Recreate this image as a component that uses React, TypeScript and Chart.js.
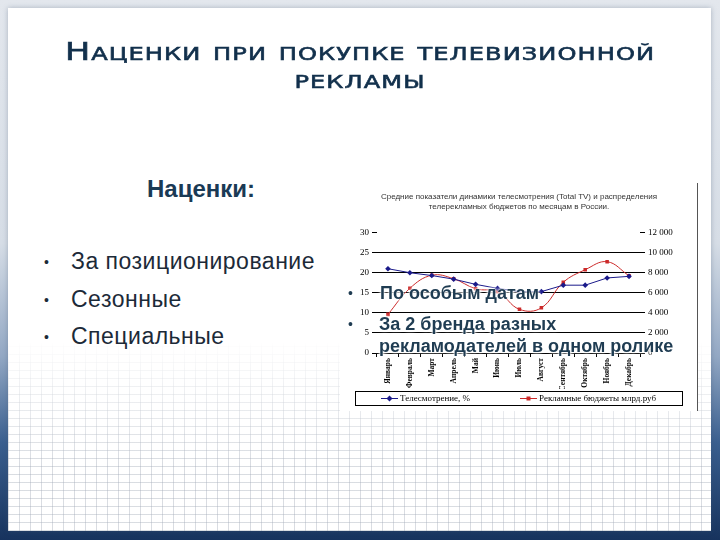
import React, { useEffect, useRef } from 'react';
import { Chart, registerables } from 'chart.js';

Chart.register(...registerables);

const months = ['Январь', 'Февраль', 'Март', 'Апрель', 'Май', 'Июнь', 'Июль', 'Август', 'Сентябрь', 'Октябрь', 'Ноябрь', 'Декабрь'];
const viewing = [21.0, 20.0, 19.3, 18.4, 17.1, 16.1, 15.3, 15.3, 16.9, 16.9, 18.7, 19.1];
const budgets = [3850, 6450, 7750, 7400, 6400, 6100, 4350, 4500, 7050, 8300, 9100, 7700];
const seriesNames = ['Телесмотрение, %', 'Рекламные бюджеты млрд.руб'];
const chartTitle = [
  'Средние показатели динамики телесмотрения (Total TV) и распределения',
  'телерекламных бюджетов по месяцам в России.',
];
const slideTitle = ['Наценки при покупке телевизионной', 'рекламы'];
const leftHeading = 'Наценки:';
const leftBullets = ['За позиционирование', 'Сезонные', 'Специальные'];
const overlayBullets = ['По особым датам', 'За 2 бренда разных', 'рекламодателей в одном ролике'];

const BLUE = '#1a1a8a';
const RED = '#cc2a2a';

const fmt = (v: number) => String(v).replace(/\B(?=(\d{3})+(?!\d))/g, ' ');

const boxedLegend = {
  id: 'boxedLegend',
  afterDraw(chart: any) {
    const { ctx } = chart;
    const x0 = 15, x1 = 342;
    const y0 = chart.height - 20, y1 = chart.height - 6;
    ctx.save();
    ctx.strokeStyle = '#000';
    ctx.lineWidth = 1;
    ctx.strokeRect(x0 + 0.5, y0 + 0.5, x1 - x0, y1 - y0);
    const yc = Math.round((y0 + y1) / 2) + 0.5;
    chart.data.datasets.forEach((ds: any, i: number) => {
      const lx = i === 0 ? 41 : 180;
      ctx.strokeStyle = ds.borderColor;
      ctx.lineWidth = 1;
      ctx.beginPath();
      ctx.moveTo(lx, yc);
      ctx.lineTo(lx + 17, yc);
      ctx.stroke();
      ctx.fillStyle = ds.borderColor;
      const mx = lx + 8.5;
      if (i === 0) {
        ctx.beginPath();
        ctx.moveTo(mx, yc - 3);
        ctx.lineTo(mx + 3, yc);
        ctx.lineTo(mx, yc + 3);
        ctx.lineTo(mx - 3, yc);
        ctx.closePath();
        ctx.fill();
      } else {
        ctx.fillRect(mx - 2, yc - 2, 4, 4);
      }
      ctx.fillStyle = '#000';
      ctx.font = '9px "Liberation Serif"';
      ctx.textBaseline = 'middle';
      ctx.fillText(ds.label, lx + 19, yc + 0.5);
    });
    ctx.restore();
  },
};

function TvChart() {
  const ref = useRef<HTMLCanvasElement | null>(null);
  useEffect(() => {
    if (!ref.current) return;
    const serif = 'Liberation Serif';
    const chart = new Chart(ref.current, {
      type: 'line',
      data: {
        labels: months,
        datasets: [
          {
            label: seriesNames[0],
            data: viewing,
            yAxisID: 'y',
            borderColor: BLUE,
            backgroundColor: BLUE,
            borderWidth: 1,
            pointStyle: 'rectRot',
            pointRadius: 2.8,
            pointBorderWidth: 0,
            tension: 0,
          },
          {
            label: seriesNames[1],
            data: budgets,
            yAxisID: 'y1',
            borderColor: RED,
            backgroundColor: RED,
            borderWidth: 1,
            pointStyle: 'rect',
            pointRadius: 2.5,
            pointBorderWidth: 0,
            tension: 0.4,
          },
        ],
      },
      options: {
        responsive: false,
        animation: false,
        layout: { padding: { left: 0, right: 0, top: 0, bottom: 22 } },
        plugins: {
          legend: { display: false },
          tooltip: { enabled: false },
          title: {
            display: true,
            text: chartTitle,
            color: '#333',
            font: { family: 'Liberation Sans', size: 8, weight: 'normal', lineHeight: 1.35 },
            padding: { top: 8, bottom: 20 },
          },
        },
        scales: {
          x: {
            offset: true,
            grid: { display: true, drawOnChartArea: false, offset: true, tickLength: 4, color: '#000' },
            border: { display: true, color: '#000', width: 1 },
            ticks: {
              autoSkip: false,
              minRotation: 90,
              maxRotation: 90,
              padding: 1,
              color: '#000',
              font: { family: serif, size: 7.5, weight: 'bold' },
            },
            afterFit: (s: any) => { s.height = 36; },
          },
          y: {
            position: 'left',
            min: 0,
            max: 30,
            ticks: { stepSize: 5, color: '#000', padding: 3, font: { family: serif, size: 9 } },
            grid: {
              color: (c: any) => (c.tick && c.tick.value === 30 ? 'rgba(0,0,0,0)' : '#000'),
              tickColor: '#000',
              tickLength: 5,
              lineWidth: 1,
            },
            border: { display: false },
            afterFit: (s: any) => { s.width = 37; },
          },
          y1: {
            position: 'right',
            min: 0,
            max: 12000,
            ticks: { stepSize: 2000, color: '#000', padding: 3, font: { family: serif, size: 9 }, callback: (v: any) => fmt(Number(v)) },
            grid: { drawOnChartArea: false, tickColor: '#000', tickLength: 5 },
            border: { display: false },
            afterFit: (s: any) => { s.width = 58; },
          },
        },
      },
      plugins: [boxedLegend],
    } as any);
    return () => chart.destroy();
  }, []);
  return <canvas ref={ref} width={358} height={228} style={{ display: 'block' }} />;
}

export default function App() {
  const ink = '#1f3c52';
  const halo = '0 0 2px #fff, 0 0 3px #fff, 0 0 4px #fff';
  return (
    <div
      style={{
        position: 'fixed',
        left: 0,
        top: 0,
        width: 720,
        height: 540,
        overflow: 'hidden',
        background: 'linear-gradient(180deg, #e3e7ed 0%, #d6dde6 45%, #93a8c4 66%, #3a5f8f 82%, #17335e 100%)',
        fontFamily: '"Liberation Sans", Arial, sans-serif',
      }}
    >
      <div
        style={{
          position: 'absolute',
          left: 8,
          top: 8,
          width: 703,
          height: 523,
          background: '#fff',
          boxShadow: '0 0 5px rgba(60,80,110,0.35)',
        }}
      />
      {/* grid pattern at bottom of panel */}
      <div
        style={{
          position: 'absolute',
          left: 8,
          top: 340,
          width: 703,
          height: 191,
          backgroundImage:
            'repeating-linear-gradient(0deg, rgba(160,168,182,0.4) 0px, rgba(160,168,182,0.4) 1px, transparent 1px, transparent 8px), repeating-linear-gradient(90deg, rgba(160,168,182,0.4) 0px, rgba(160,168,182,0.4) 1px, transparent 1px, transparent 11px)',
          WebkitMaskImage: 'linear-gradient(180deg, transparent 0%, rgba(0,0,0,0.5) 30%, #000 65%)',
          maskImage: 'linear-gradient(180deg, transparent 0%, rgba(0,0,0,0.5) 30%, #000 65%)',
        }}
      />
      {/* slide title */}
      {slideTitle.map((t, i) => (
        <div
          key={t}
          style={{
            position: 'absolute',
            left: 0,
            width: 720,
            top: i === 0 ? 38 : 65.5,
            textAlign: 'center',
            fontFamily: '"DejaVu Sans", sans-serif',
            fontVariant: 'small-caps',
            fontSize: 25,
            lineHeight: '28px',
            letterSpacing: 0.8,
            color: '#12304c',
            WebkitTextStroke: '0.6px #12304c',
            transform: 'scaleX(1.34)',
            transformOrigin: '360px 0',
            whiteSpace: 'nowrap',
          }}
        >
          {t}
        </div>
      ))}
      {/* left heading */}
      <div
        style={{
          position: 'absolute',
          left: 100,
          width: 202,
          top: 175,
          textAlign: 'center',
          fontWeight: 'bold',
          fontSize: 24,
          lineHeight: '28px',
          color: '#1a3a55',
        }}
      >
        {leftHeading}
      </div>
      {leftBullets.map((b, i) => (
        <div key={b} style={{ position: 'absolute', left: 44, top: 248 + i * 37.5, fontSize: 23, lineHeight: '27px', color: '#1c2a38', whiteSpace: 'nowrap' }}>
          <span style={{ display: 'inline-block', width: 27, fontSize: 14, verticalAlign: 'middle' }}>•</span>
          <span style={{ letterSpacing: 0.5 }}>{b}</span>
        </div>
      ))}
      {/* chart */}
      <div style={{ position: 'absolute', left: 340, top: 183, width: 357, height: 228, background: '#fff', borderRight: '1px solid #555' }}>
        <TvChart />
      </div>
      {/* overlay bullets on chart */}
      <div style={{ position: 'absolute', left: 348, top: 282, fontSize: 14, lineHeight: '22px', color: ink, textShadow: halo }}>•</div>
      <div style={{ position: 'absolute', left: 348, top: 313, fontSize: 14, lineHeight: '22px', color: ink, textShadow: halo }}>•</div>
      <div
        style={{
          position: 'absolute',
          left: 380,
          top: 282,
          fontSize: 18,
          fontWeight: 'bold',
          lineHeight: '22px',
          color: ink,
          textShadow: halo,
          whiteSpace: 'nowrap',
        }}
      >
        {overlayBullets[0]}
      </div>
      <div
        style={{
          position: 'absolute',
          left: 379,
          top: 313,
          fontSize: 18,
          fontWeight: 'bold',
          lineHeight: '22px',
          color: ink,
          textShadow: halo,
          whiteSpace: 'nowrap',
        }}
      >
        {overlayBullets[1]}
        <br />
        {overlayBullets[2]}
      </div>
    </div>
  );
}
